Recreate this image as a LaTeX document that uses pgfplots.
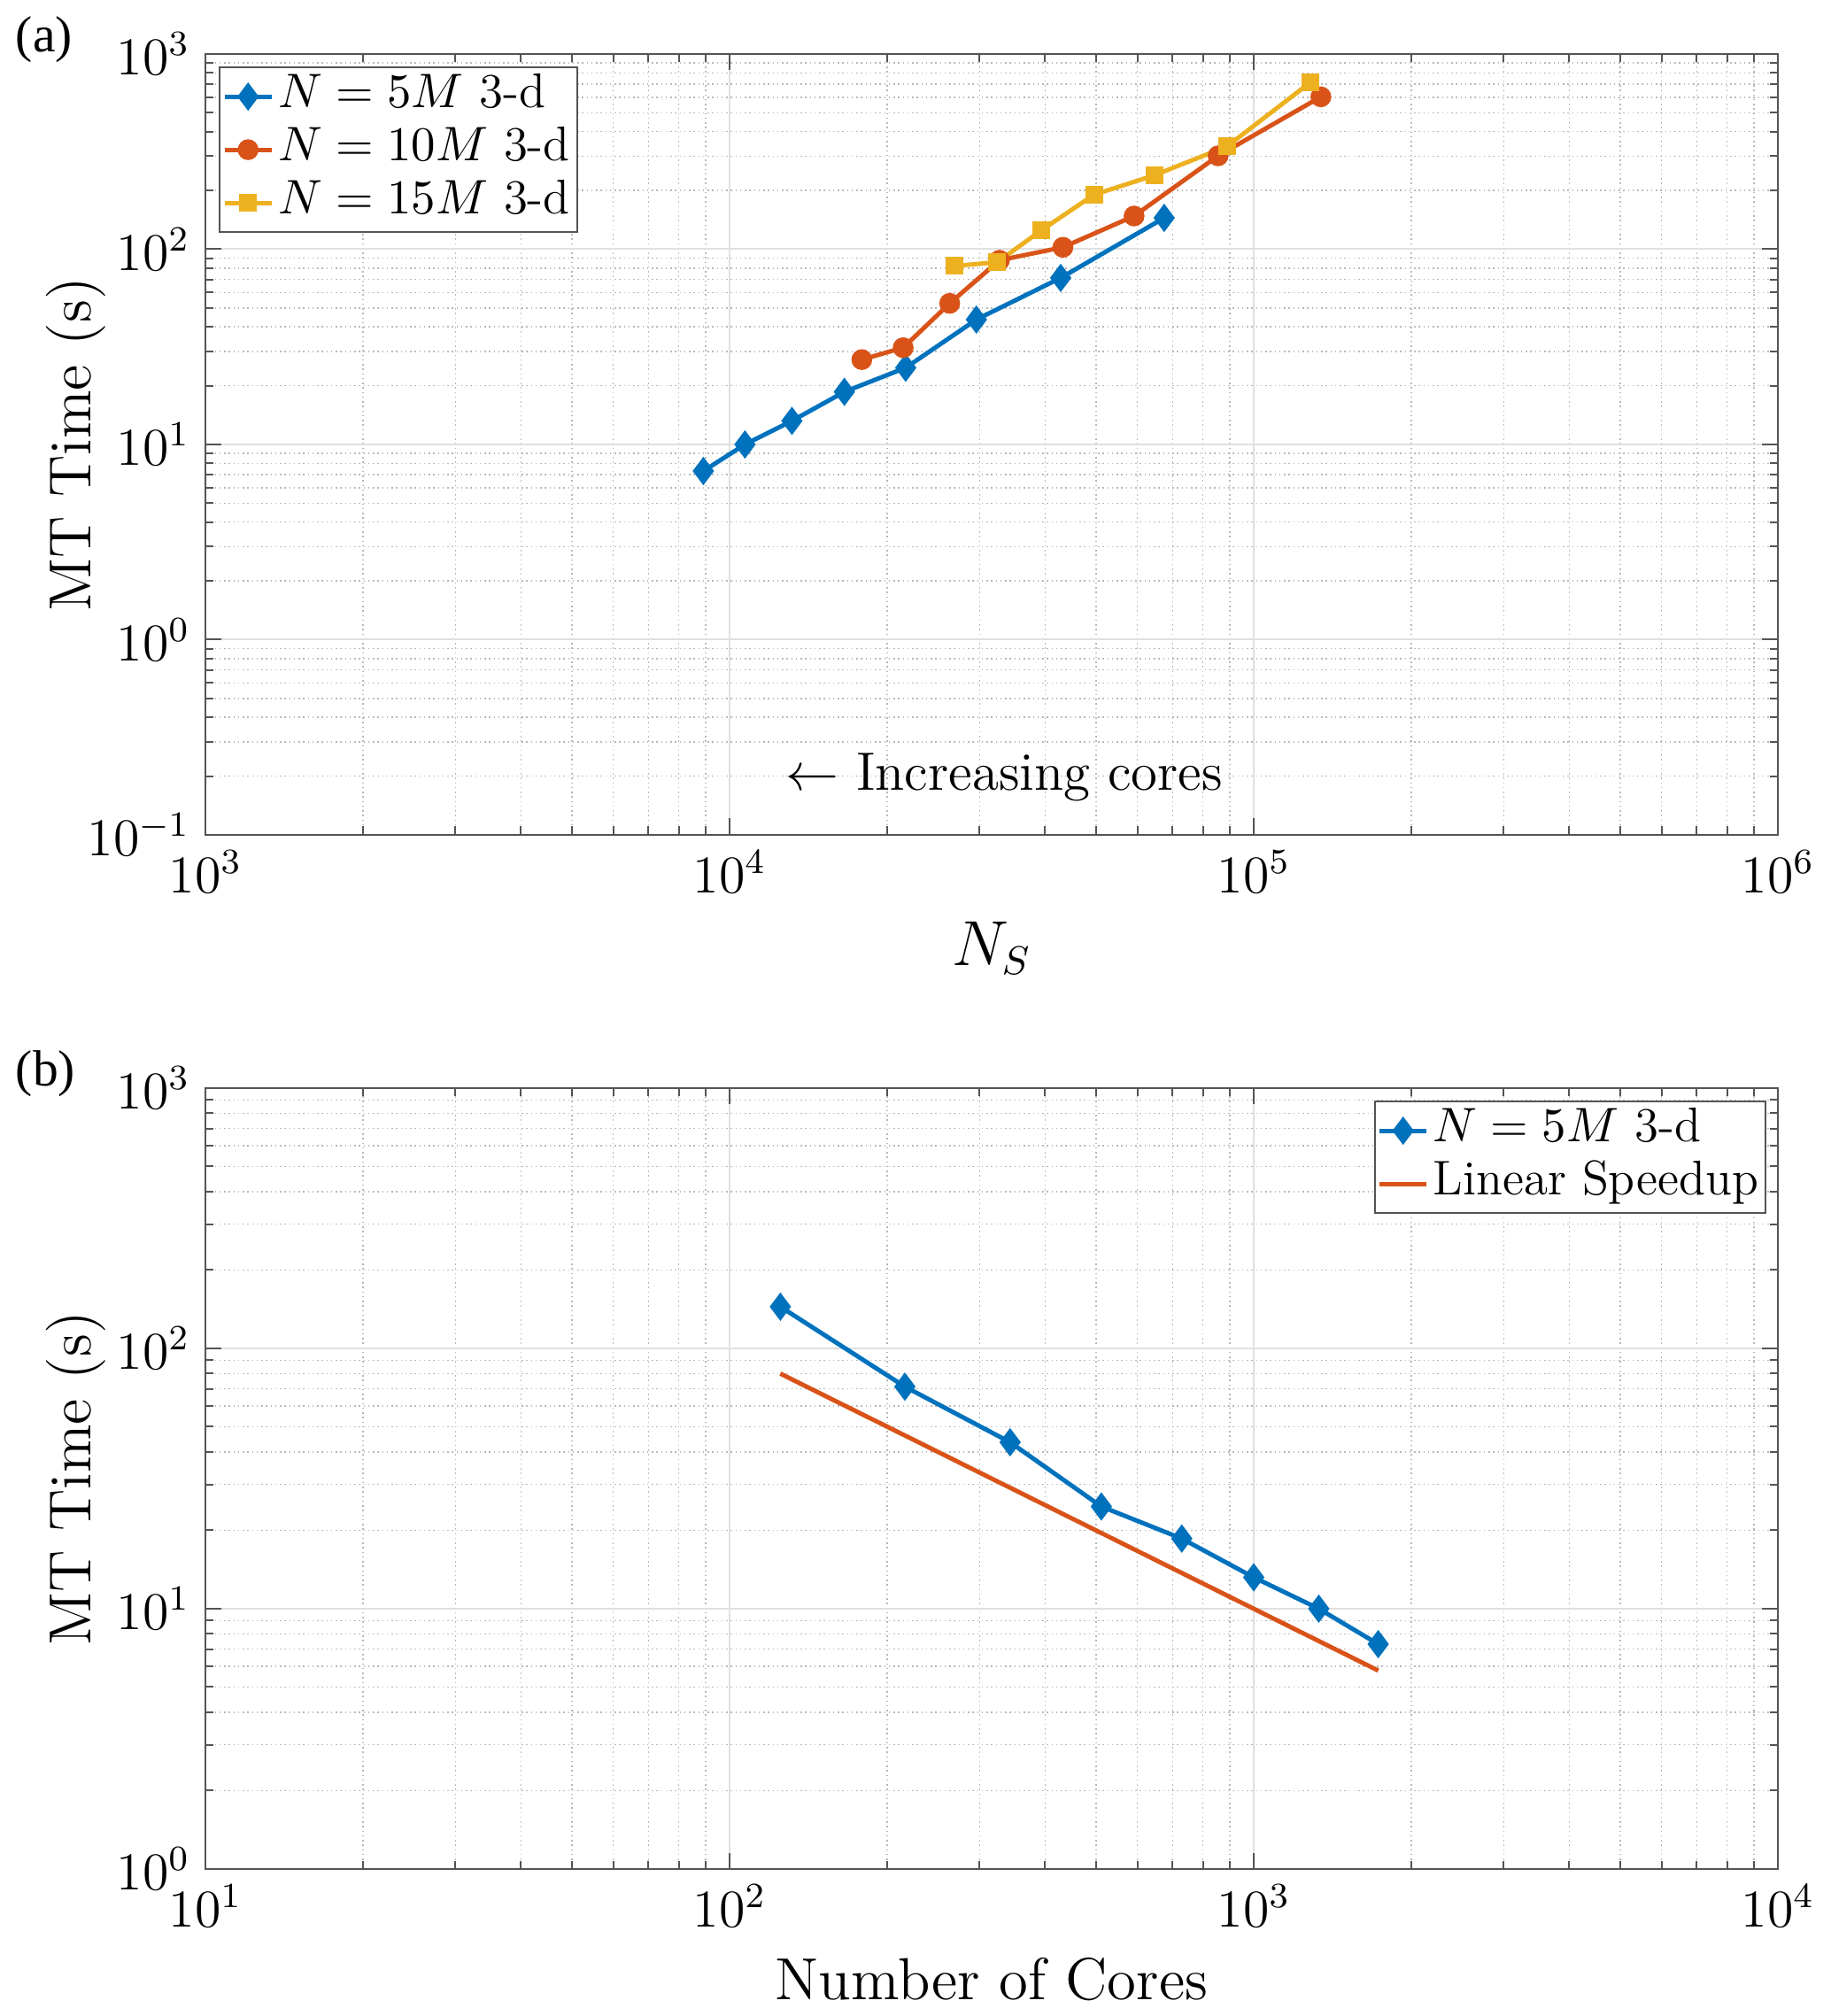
\documentclass[border=0pt]{standalone}
\usepackage{fontspec}
\newfontfamily\timesfont{Liberation Serif}
\usepackage{pgfplots}
\pgfplotsset{compat=1.18}
\definecolor{mblue}{rgb}{0,0.447,0.741}
\definecolor{morange}{rgb}{0.85,0.325,0.098}
\definecolor{myellow}{rgb}{0.929,0.694,0.125}
\definecolor{maxis}{rgb}{0.33,0.33,0.33}
\pgfplotsset{
  mystyle/.style={
    scale only axis, width=355.2pt, height=176.4pt,
    log origin=infty,
    axis line style={maxis, line width=0.4pt},
    tick style={maxis, line width=0.4pt},
    tick align=inside,
    major tick length=3.7pt, minor tick length=1.9pt,
    grid=both,
    major grid style={color=black!12, line width=0.4pt, solid},
    minor grid style={color=black!28, line width=0.3pt, dash pattern=on 0.3pt off 0.75pt},
    tick label style={font=\fontsize{11.5}{13}\selectfont},
    legend style={font=\fontsize{11}{13}\selectfont, draw=maxis, line width=0.4pt, fill=white, inner sep=0.6pt, row sep=0pt, nodes={inner sep=1pt, text height=0.75em, text depth=0.25em}},
    legend cell align=left,
    legend image code/.code={\draw[mark repeat=2,mark phase=2] plot coordinates {(0cm,0cm) (0.187cm,0cm) (0.374cm,0cm)};},
    every axis x label/.style={at={(axis description cs:0.5,-0.1667)}, anchor=base, font=\fontsize{13.4}{15}\selectfont},
    every axis y label/.style={at={(axis description cs:-0.0732,0.5)}, rotate=90, anchor=base, font=\fontsize{13.4}{15}\selectfont},
  },
  sblue/.style={color=mblue, line width=1pt, mark=diamond*, mark size=2.8pt, mark options={solid, line width=0.5pt, fill=mblue}},
  sorange/.style={color=morange, line width=1pt, mark=*, mark size=2.1pt, mark options={solid, line width=0.5pt, fill=morange}},
  syellow/.style={color=myellow, line width=1pt, mark=square*, mark size=1.75pt, mark options={solid, line width=0.5pt, fill=myellow}},
}
\begin{document}
\begin{tikzpicture}
\path[use as bounding box] (-46.4pt,-33.2pt) rectangle (367pt,422.2pt);
% bottom panel (b)
\begin{loglogaxis}[mystyle, name=bot, at={(0,0)}, anchor=south west,
  xmin=10, xmax=1e4, ymin=1, ymax=1000,
  xtick={10,100,1000,10000}, ytick={1,10,100,1000},
  xlabel={Number of Cores}, ylabel={MT Time (s)},
  legend style={at={(0.9927,0.984)}, anchor=north east}]
\addplot[sblue] coordinates {(125,144.6) (216,71.3) (343,43.6) (512,24.7) (729,18.6) (1000,13.2) (1331,10.0) (1728,7.31)};
\addlegendentry{$N=5M$ 3-d}
\addplot[color=morange, line width=1pt] coordinates {(125,80) (1728,5.787)};
\addlegendentry{Linear Speedup}
\end{loglogaxis}
% top panel (a)
\begin{loglogaxis}[mystyle, name=top, at={(0,233.6pt)}, anchor=south west,
  xmin=1e3, xmax=1e6, ymin=0.1, ymax=1000,
  xtick={1000,10000,100000,1000000}, ytick={0.1,1,10,100,1000},
  xlabel={$N_S$}, ylabel={MT Time (s)},
  legend style={at={(0.0085,0.984)}, anchor=north west}]
\addplot[sblue] coordinates {(8913,7.31) (10700,10.0) (13150,13.2) (16560,18.6) (21680,24.7) (29570,43.6) (42830,71.3) (67480,144.6)};
\addlegendentry{$N=5M$ 3-d}
\addplot[sorange] coordinates {(17880,27.2) (21440,31.3) (26300,52.8) (32730,87.8) (43250,102.3) (59130,147.9) (85500,300.8) (134300,603)};
\addlegendentry{$N=10M$ 3-d}
\addplot[syellow] coordinates {(26840,82.0) (32430,85.8) (39360,125.1) (49560,190) (64570,239) (88900,336) (128100,714)};
\addlegendentry{$N=15M$ 3-d}
\node[anchor=base, font=\fontsize{12.2}{14}\selectfont] at (axis description cs:0.508,0.0578) {$\leftarrow$ Increasing cores};
\end{loglogaxis}
\node[anchor=west, inner sep=0pt, font=\timesfont\fontsize{11.5}{13}\selectfont] at ([xshift=-43pt, yshift=3.3pt]top.north west) {(a)};
\node[anchor=west, inner sep=0pt, font=\timesfont\fontsize{11.5}{13}\selectfont] at ([xshift=-43pt, yshift=3.3pt]bot.north west) {(b)};
\end{tikzpicture}
\end{document}
